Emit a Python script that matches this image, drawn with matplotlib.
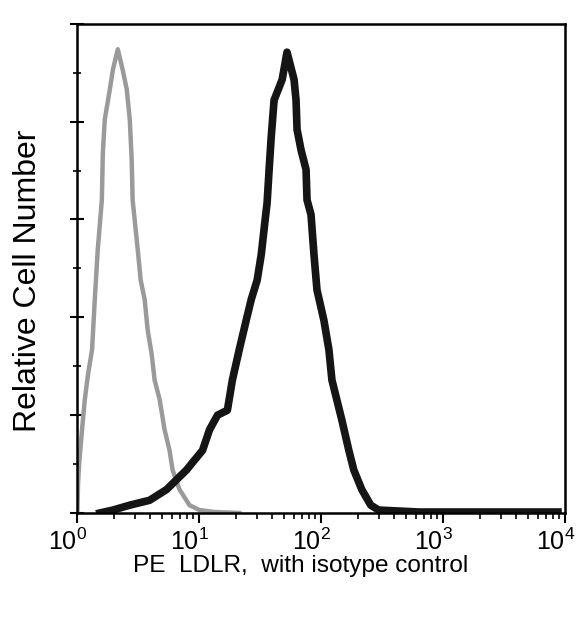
import matplotlib
matplotlib.use("Agg")
import matplotlib.pyplot as plt
import matplotlib.transforms as mtransforms
from matplotlib.ticker import LogLocator, MultipleLocator, NullFormatter

plt.rcParams['font.family'] = ['Liberation Sans', 'DejaVu Sans']
plt.rcParams['mathtext.fontset'] = 'custom'
plt.rcParams['mathtext.rm'] = 'Liberation Sans'

# isotype control (grey) - channel value, relative cell number
control_x = [1.01, 1.02, 1.04, 1.10, 1.16, 1.23, 1.33, 1.40, 1.48, 1.60,
             1.63, 1.69, 1.86, 1.97, 2.16, 2.37, 2.56, 2.71, 2.81, 2.86,
             3.15, 3.33, 3.59, 3.80, 4.10, 4.33, 4.76, 5.23, 5.74, 6.08,
             6.93, 8.36, 10.1, 13.4, 21.4]
control_y = [3, 29, 49, 85, 116, 141, 167, 218, 269, 320,
             368, 402, 433, 453, 474, 453, 433, 402, 361, 320,
             269, 238, 218, 187, 162, 136, 116, 85, 64, 44,
             24, 8, 3, 1, 0]

# PE LDLR (black)
ldlr_x = [1.54, 1.97, 2.71, 3.94, 5.43, 6.55, 7.91, 9.19, 10.7, 12.2,
          14.2, 17.1, 18.8, 21.4, 24.4, 26.8, 30.0, 32.4, 34.9, 36.2,
          37.6, 39.1, 41.3, 48.1, 52.7, 60.2, 62.5, 63.7, 68.7, 75.5,
          76.9, 82.9, 87.7, 92.8, 105.7, 116.2, 123.0, 148.4, 169.3, 185.9,
          216, 256, 297, 631, 8770]
ldlr_y = [0, 3, 8, 13, 24, 34, 44, 54, 64, 85,
          100, 105, 136, 167, 197, 218, 238, 264, 300, 317,
          351, 384, 422, 443, 471, 443, 422, 392, 371, 351,
          320, 305, 264, 228, 197, 167, 136, 95, 64, 44,
          24, 8, 3, 1, 1]

fig = plt.figure(figsize=(5.83, 6.2), dpi=100)
ax = fig.add_axes([0.132, 0.1726, 0.837, 0.789])

ax.plot(control_x, control_y, color='#9a9a9a', linewidth=3.2)
ax.plot(ldlr_x, ldlr_y, color='#151515', linewidth=5.5)

ax.set_xscale('log')
ax.set_xlim(1, 1e4)
ax.set_ylim(0, 500)

ax.xaxis.set_major_locator(LogLocator(base=10, numticks=10))
ax.xaxis.set_minor_locator(LogLocator(base=10, subs=range(2, 10), numticks=50))
ax.xaxis.set_minor_formatter(NullFormatter())
ax.yaxis.set_major_locator(MultipleLocator(100))
ax.yaxis.set_minor_locator(MultipleLocator(50))
ax.set_yticklabels([])

for s in ['top', 'bottom', 'left', 'right']:
    ax.spines[s].set_linewidth(1.8)

ax.tick_params(axis='x', which='major', direction='out', length=7, width=1.5,
               labelsize=18, pad=4)
ax.tick_params(axis='x', which='minor', direction='out', length=4, width=1.2)
ax.tick_params(axis='y', which='major', direction='inout', length=10, width=1.5)
ax.tick_params(axis='y', which='minor', direction='inout', length=6, width=1.2)

# tick labels sit a little left of their ticks in the reference
shift = mtransforms.ScaledTranslation(-0.09, 0, fig.dpi_scale_trans)
for lbl in ax.get_xticklabels():
    lbl.set_transform(lbl.get_transform() + shift)

ax.set_xlabel('PE  LDLR,  with isotype control', fontsize=17.6)
ax.xaxis.set_label_coords(0.459, -0.085)
ax.set_ylabel('Relative Cell Number', fontsize=23)
ax.yaxis.set_label_coords(-0.07, 0.474)

fig.savefig('out.png', dpi=100)
